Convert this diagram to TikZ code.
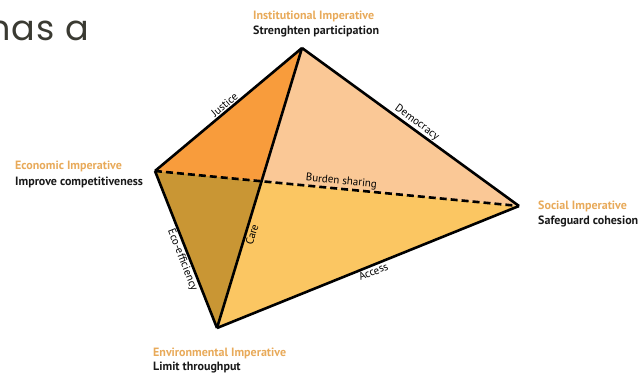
\documentclass[tikz,border=0pt]{standalone}
\usepackage{fontspec}
\setmainfont{PT Sans}
\newfontfamily\slidefont{Poppins}
\usepackage{xcolor}

\definecolor{justiceorange}{HTML}{F89C3C}
\definecolor{peachface}{HTML}{FAC896}
\definecolor{goldface}{HTML}{FBC662}
\definecolor{brownface}{HTML}{C99634}
\definecolor{imporange}{HTML}{E8AA5A}
\definecolor{slidegray}{HTML}{3A3A32}

\begin{document}
\begin{tikzpicture}[x=1pt, y=-1pt,
    edge/.style={line width=2.6pt, line join=round},
    hiddenedge/.style={line width=2.6pt, dash pattern=on 7pt off 4pt},
    edgelabel/.style={font=\fontsize{11}{12}\selectfont, sloped, inner sep=1pt},
    imptitle/.style={anchor=base west, inner sep=0pt, text=imporange, font=\bfseries\fontsize{12}{14}\selectfont},
    impgoal/.style={anchor=base west, inner sep=0pt, text=black!90, font=\bfseries\fontsize{12}{14}\selectfont}]
        \useasboundingbox (0,0) rectangle (639,373);
        \clip (0,0) rectangle (639,373);

        % Slide text
        \node[anchor=base east, inner sep=0pt, text=slidegray, font=\slidefont\fontsize{35}{40}\selectfont\addfontfeatures{LetterSpace=3}] (hasa) at (89,40) {has a};

        % Vertices
        \coordinate (inst) at (302,48);
        \coordinate (econ) at (155,171);
        \coordinate (soc) at (519,206);
        \coordinate (env) at (217,328);
        \coordinate (cross) at (intersection of econ--soc and inst--env);

        % Faces
        \fill[justiceorange] (econ) -- (inst) -- (cross) -- cycle;
        \fill[peachface] (inst) -- (soc) -- (cross) -- cycle;
        \fill[goldface] (cross) -- (soc) -- (env) -- cycle;
        \fill[brownface] (econ) -- (cross) -- (env) -- cycle;

        % Hidden edge
        \draw[hiddenedge] (econ) -- (soc) node[edgelabel, above, pos=0.51] {Burden sharing};

        % Edges
        \draw[edge] (econ) -- (inst) node[edgelabel, above, pos=0.5] {Justice};
        \draw[edge] (inst) -- (soc) node[edgelabel, above, pos=0.51] {Democracy};
        \draw[edge] (env) -- (inst) node[edgelabel, below, pos=0.34] {Care};
        \draw[edge] (econ) -- (env) node[edgelabel, below, pos=0.55] {Eco-efficiency};
        \draw[edge] (env) -- (soc) node[edgelabel, below, pos=0.51] {Access};

        % Imperatives
        \node[imptitle] (insttitle) at (253,19) {Institutional Imperative};
        \node[impgoal] (instgoal) at (253,34) {Strenghten participation};
        \node[imptitle] (econtitle) at (15,169) {Economic Imperative};
        \node[impgoal] (econgoal) at (15,185) {Improve competitiveness};
        \node[imptitle] (soctitle) at (538,209) {Social Imperative};
        \node[impgoal] (socgoal) at (538,224) {Safeguard cohesion};
        \node[imptitle] (envtitle) at (153,356) {Environmental Imperative};
        \node[impgoal] (envgoal) at (153,370) {Limit throughput};
    \end{tikzpicture}
\end{document}
